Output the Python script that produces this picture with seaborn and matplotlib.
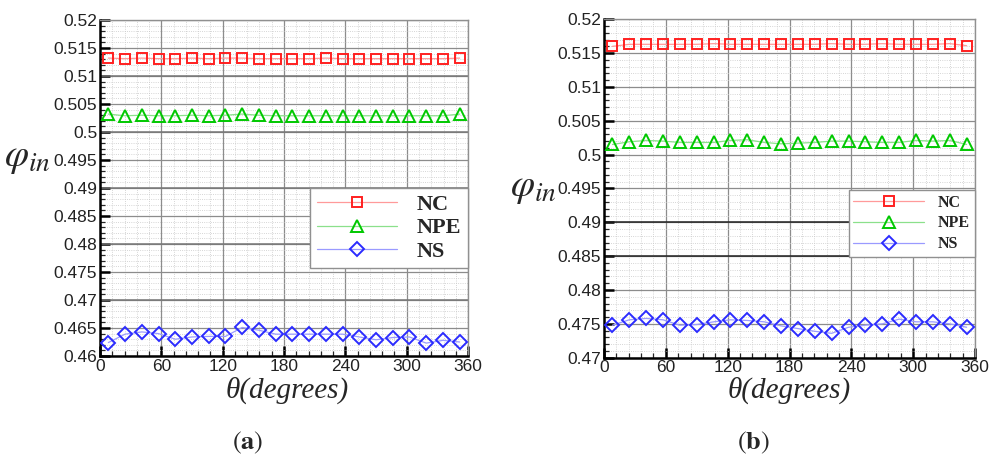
import numpy as np
import pandas as pd
import matplotlib
matplotlib.use("Agg")
import matplotlib.pyplot as plt
from matplotlib.ticker import MultipleLocator, FuncFormatter
import seaborn as sns

sns.set_theme(style="white")
plt.rcParams["font.family"] = ["Liberation Sans", "DejaVu Sans"]
plt.rcParams["mathtext.fontset"] = "stix"

# circumferential positions (degrees)
theta = [8.2, 24.5, 40.9, 57.3, 73.6, 90.0, 106.4, 122.7, 139.1, 155.5, 171.8,
         188.2, 204.5, 220.9, 237.3, 253.6, 270.0, 286.4, 302.7, 319.1, 335.5, 351.8]

series_names = ["NC", "NPE", "NS"]

# case (a)
a_nc = [0.5132, 0.5131, 0.5132, 0.5131, 0.5131, 0.5132, 0.5131, 0.5132, 0.5132, 0.5131, 0.5131,
        0.5131, 0.5131, 0.5132, 0.5131, 0.5131, 0.5131, 0.5131, 0.5131, 0.5131, 0.5131, 0.5132]
a_npe = [0.5032, 0.5029, 0.5030, 0.5029, 0.5029, 0.5030, 0.5029, 0.5030, 0.5032, 0.5030, 0.5029,
         0.5029, 0.5029, 0.5029, 0.5029, 0.5029, 0.5029, 0.5029, 0.5029, 0.5029, 0.5029, 0.5032]
a_ns = [0.4624, 0.4639, 0.4643, 0.4640, 0.4630, 0.4634, 0.4635, 0.4635, 0.4651, 0.4646, 0.4639,
        0.4639, 0.4639, 0.4639, 0.4639, 0.4634, 0.4629, 0.4633, 0.4634, 0.4623, 0.4628, 0.4625]

# case (b)
b_nc = [0.5160, 0.5163, 0.5163, 0.5163, 0.5163, 0.5163, 0.5164, 0.5163, 0.5163, 0.5163, 0.5163,
        0.5163, 0.5163, 0.5164, 0.5163, 0.5163, 0.5164, 0.5163, 0.5163, 0.5163, 0.5164, 0.5161]
b_npe = [0.5015, 0.5019, 0.5021, 0.5020, 0.5018, 0.5018, 0.5018, 0.5021, 0.5022, 0.5018, 0.5016,
         0.5017, 0.5018, 0.5020, 0.5020, 0.5019, 0.5018, 0.5018, 0.5021, 0.5020, 0.5021, 0.5015]
b_ns = [0.4748, 0.4756, 0.4758, 0.4756, 0.4748, 0.4749, 0.4753, 0.4756, 0.4755, 0.4753, 0.4747,
        0.4743, 0.4739, 0.4736, 0.4745, 0.4748, 0.4750, 0.4757, 0.4753, 0.4753, 0.4750, 0.4745]

x_ticks = [0, 60, 120, 180, 240, 300, 360]

# marker edge colour and paler connecting-line colour per series
colors = {"NC": "#ff2020", "NPE": "#00c800", "NS": "#2b2bff"}
line_colors = {"NC": "#ff9a9a", "NPE": "#8be08b", "NS": "#9a9aff"}
markers = {"NC": "s", "NPE": "^", "NS": "D"}
msizes = {"NC": 7, "NPE": 8, "NS": 7}


def long_frame(nc, npe, ns):
    frames = []
    for name, vals in zip(series_names, [nc, npe, ns]):
        frames.append(pd.DataFrame({"theta": theta, "phi": vals, "series": name}))
    return pd.concat(frames, ignore_index=True)


fig = plt.figure(figsize=(9.91, 4.59), dpi=100)
ax_a = fig.add_axes([0.1009, 0.2244, 0.3714, 0.7320])
ax_b = fig.add_axes([0.6095, 0.2207, 0.3744, 0.7373])


def draw_panel(ax, df, ylim, dark_lines, dark_color, leg_fs, leg_hl, leg_ls, leg_bbox):
    for name in series_names:
        sub = df[df["series"] == name]
        sns.lineplot(data=sub, x="theta", y="phi", ax=ax, color=line_colors[name], lw=0.9,
                     marker=markers[name], markersize=msizes[name], markerfacecolor="none",
                     markeredgecolor=colors[name], markeredgewidth=1.4, label=name, zorder=3)
    ax.set_xlim(0, 360)
    ax.set_ylim(*ylim)
    ax.set_xticks(x_ticks)
    ax.xaxis.set_minor_locator(MultipleLocator(12))
    ax.yaxis.set_major_locator(MultipleLocator(0.005))
    ax.yaxis.set_minor_locator(MultipleLocator(0.001))
    ax.yaxis.set_major_formatter(FuncFormatter(
        lambda v, p: ("%.3f" % v).rstrip("0").rstrip(".")))
    ax.grid(True, which="major", color="#8c8c8c", lw=0.9, ls="-", zorder=0)
    ax.grid(True, which="minor", color="#c8c8c8", lw=0.6, ls=":", zorder=0)
    for yv in dark_lines:
        ax.axhline(yv, color=dark_color, lw=1.1, zorder=1)
    ax.set_axisbelow(True)
    ax.tick_params(axis="both", which="major", direction="in", length=7, width=1.8,
                   labelsize=12.5, pad=2, colors="black", labelcolor="#222222",
                   left=True, bottom=True, top=False, right=False)
    ax.tick_params(axis="both", which="minor", direction="in", length=3.5, width=0.9,
                   left=True, bottom=True, top=False, right=False)
    for s in ["left", "bottom"]:
        ax.spines[s].set_color("black")
        ax.spines[s].set_linewidth(1.8)
    for s in ["top", "right"]:
        ax.spines[s].set_color("#909090")
        ax.spines[s].set_linewidth(1.0)
    ax.set_xlabel("")
    ax.set_ylabel("")
    leg = ax.legend(loc="upper right", bbox_to_anchor=leg_bbox, borderaxespad=0,
                    prop={"family": "Liberation Serif", "weight": "bold", "size": leg_fs},
                    handlelength=leg_hl, handletextpad=0.9, labelspacing=leg_ls,
                    borderpad=0.3, fancybox=False, framealpha=1, edgecolor="#909090",
                    numpoints=1)
    leg.get_frame().set_linewidth(1.0)
    leg.set_zorder(5)


df_a = long_frame(a_nc, a_npe, a_ns)
df_b = long_frame(b_nc, b_npe, b_ns)

draw_panel(ax_a, df_a, (0.46, 0.52), [0.47, 0.48, 0.49, 0.50, 0.51], "#777777",
           16, 3.6, 0.12, (1.0, 0.5))
draw_panel(ax_b, df_b, (0.47, 0.52), [0.485, 0.49], "#222222",
           11.5, 4.4, 0.3, (1.0, 0.496))

# axis titles
fig.text(0.028, 0.655, r"$\varphi_{in}$", fontsize=28, ha="center", va="center")
fig.text(0.538, 0.590, r"$\varphi_{in}$", fontsize=28, ha="center", va="center")
fig.text(0.2895, 0.150, "θ(degrees)", family="Liberation Serif", style="italic",
         fontsize=21, ha="center", va="center")
fig.text(0.7965, 0.150, "θ(degrees)", family="Liberation Serif", style="italic",
         fontsize=21, ha="center", va="center")

# panel captions
fig.text(0.250, 0.035, r"$(\mathbf{a})$", fontsize=19, ha="center", va="center")
fig.text(0.760, 0.035, r"$(\mathbf{b})$", fontsize=19, ha="center", va="center")

fig.savefig("out.png", dpi=100, facecolor="white")
